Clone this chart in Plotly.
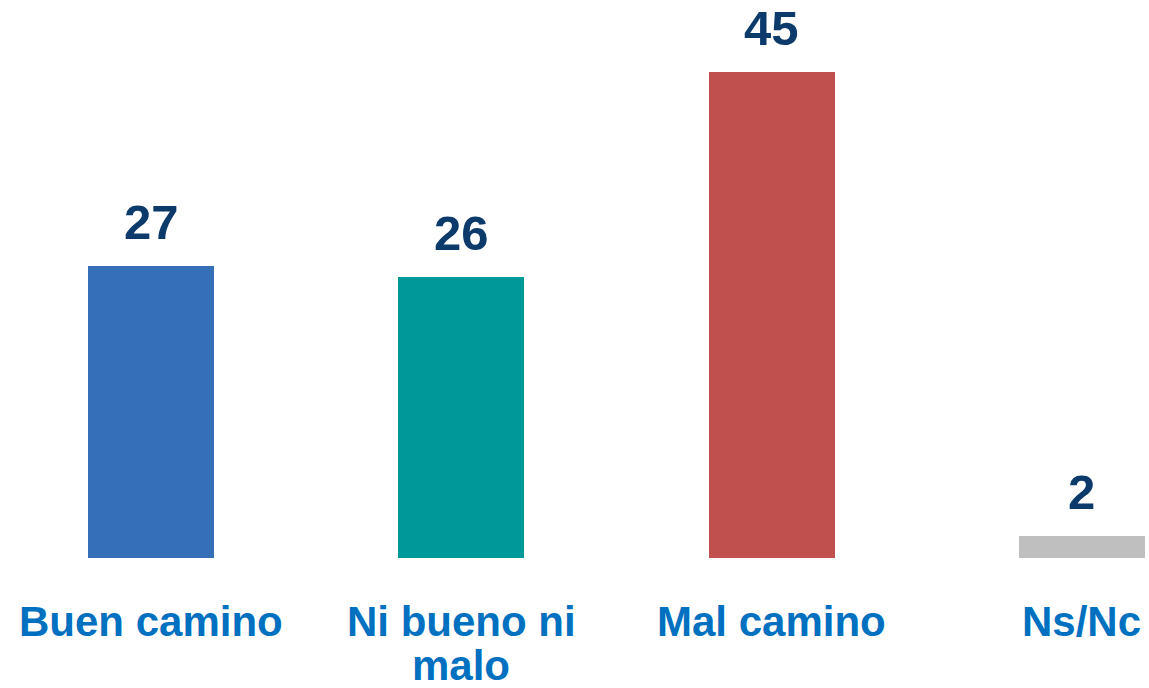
import plotly.graph_objects as go

categories = ["Buen camino", "Ni bueno ni<br>malo", "Mal camino", "Ns/Nc"]
values = [27, 26, 45, 2]
bar_colors = ["#356FBA", "#009999", "#C0504D", "#BFBFBF"]

FONT = "Liberation Sans, Arial, sans-serif"

fig = go.Figure()
fig.add_trace(go.Bar(
    x=categories,
    y=values,
    width=0.406,
    marker={"color": bar_colors, "line": {"width": 0}},
    showlegend=False,
    hoverinfo="skip",
))

# value labels above bars
for c, v in zip(categories, values):
    fig.add_annotation(
        x=c, y=v, text=f"<b>{v}</b>",
        showarrow=False, yanchor="bottom", yshift=15,
        font={"family": FONT, "size": 49, "color": "#0B3A6B"},
    )

# category labels under the bars, one annotation per line (tighter line spacing)
for c in categories:
    for i, line in enumerate(c.split("<br>")):
        fig.add_annotation(
            x=c, y=0, yref="y", text=f"<b>{line}</b>",
            showarrow=False, yanchor="middle", yshift=-63 - 44 * i,
            font={"family": FONT, "size": 42, "color": "#0070C0"},
        )

fig.update_layout(
    width=1149,
    height=688,
    margin={"l": 0, "r": 0, "t": 0, "b": 130},
    plot_bgcolor="white",
    paper_bgcolor="white",
    bargap=0,
    xaxis={
        "range": [-0.487, 3.216],
        "showgrid": False,
        "zeroline": False,
        "showline": False,
        "ticks": "",
        "showticklabels": False,
        "automargin": False,
    },
    yaxis={
        "range": [0, 51.67],
        "visible": False,
        "automargin": False,
    },
)

fig.write_html(
    "out.html",
    config={"displayModeBar": False},
    post_script="document.body.style.margin='0';document.body.style.overflow='hidden';",
)
